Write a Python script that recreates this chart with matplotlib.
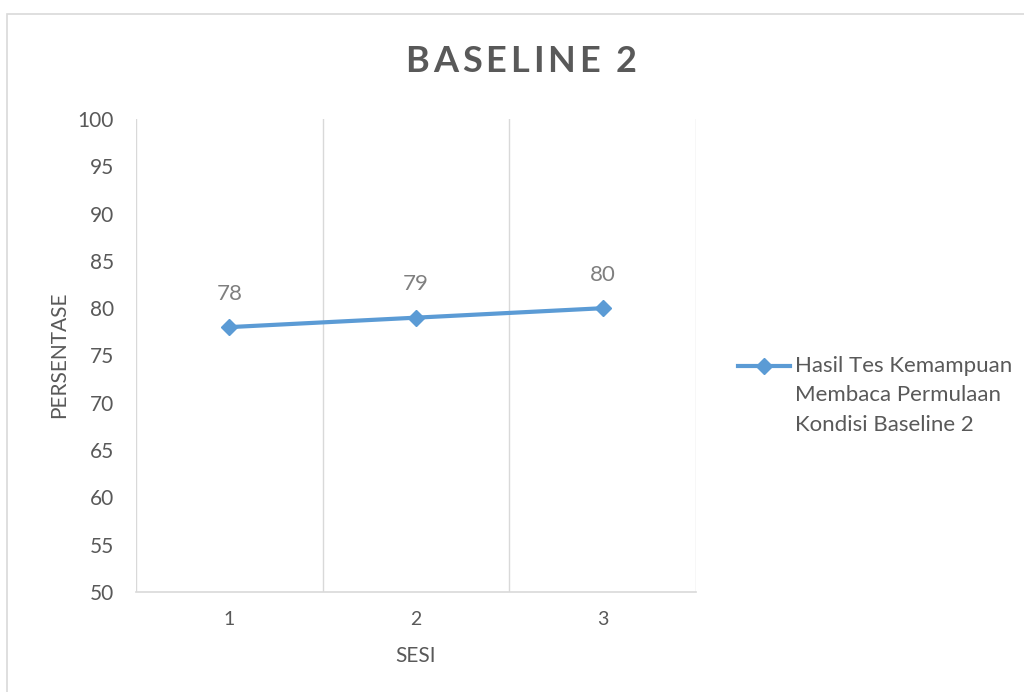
import matplotlib
matplotlib.use("Agg")
import matplotlib.pyplot as plt
from matplotlib.lines import Line2D
from matplotlib.patches import Rectangle

plt.rcParams['font.family'] = ['Lato', 'DejaVu Sans']

sesi = [1, 2, 3]
persentase = [78, 79, 80]
yticks = [50, 55, 60, 65, 70, 75, 80, 85, 90, 95, 100]
judul = 'BASELINE 2'
label_seri = "Hasil Tes Kemampuan\nMembaca Permulaan\nKondisi Baseline 2"

blue = '#5B9BD5'
grey_txt = '#595959'
grid_c = '#D9D9D9'

W, H = 1024, 692
fig = plt.figure(figsize=(W / 100, H / 100), dpi=100)


def px(x, y):
    # pixel position (from top-left) -> figure fraction
    return x / W, 1 - y / H


# chart frame
fig.patches.append(Rectangle((7 / W, -0.1), 1.2, (H - 14) / H + 0.1,
                             transform=fig.transFigure, fill=False,
                             edgecolor=grid_c, linewidth=1.2))

ax = fig.add_axes([136 / W, 1 - 592 / H, (696 - 136) / W, (592 - 119) / H])
ax.plot(sesi, persentase, color=blue, linewidth=3, marker='D',
        markersize=8.5, zorder=3)
for x, y in zip(sesi, persentase):
    ax.annotate(str(y), (x, y), xytext=(0, 24), textcoords='offset points',
                ha='center', va='center', fontsize=16, color='#7F7F7F')

ax.set_xlim(0.5, 3.5)
ax.set_ylim(50, 100)
ax.set_yticks(yticks)
ax.set_xticks(sesi)
# vertical gridlines between categories
ax.set_xticks([0.5, 1.5, 2.5, 3.5], minor=True)
ax.grid(True, which='minor', axis='x', color=grid_c, linewidth=1)
ax.tick_params(axis='both', which='both', length=0)
ax.tick_params(axis='y', labelsize=15, labelcolor=grey_txt, pad=16)
ax.tick_params(axis='x', labelsize=14, labelcolor=grey_txt, pad=14)
for s in ['top', 'right', 'left']:
    ax.spines[s].set_visible(False)
ax.spines['bottom'].set_color(grid_c)
ax.spines['bottom'].set_linewidth(1.2)

fig.text(*px(416, 656), 'SESI', fontsize=15, color=grey_txt,
         ha='center', va='center')
fig.text(*px(59, 355), 'PERSENTASE', fontsize=15, color=grey_txt,
         ha='center', va='center', rotation=90)

# title with letter spacing
renderer = fig.canvas.get_renderer()
tkw = dict(fontsize=26, fontweight='bold', color=grey_txt, va='center')


def lebar(s):
    t = fig.text(0, 0, s, **tkw)
    w = t.get_window_extent(renderer).width
    t.remove()
    return w


spasi = 3.8
total = lebar(judul) + spasi * (len(judul) - 1)
x0 = 521 - total / 2
for i, ch in enumerate(judul):
    if ch == ' ':
        continue
    kiri = lebar(judul[:i + 1]) - lebar(ch) + spasi * i
    fig.text(*px(x0 + kiri, 61), ch, ha='left', **tkw)

# legend
fig.add_artist(Line2D([738 / W, 790 / W], [1 - 366 / H, 1 - 366 / H],
                      transform=fig.transFigure, color=blue, linewidth=3))
fig.add_artist(Line2D([764 / W], [1 - 366 / H], transform=fig.transFigure,
                      color=blue, marker='D', markersize=8.5, linestyle='none'))
fig.text(*px(795, 356), label_seri, fontsize=16, color=grey_txt,
         ha='left', va='top', linespacing=1.58)

fig.savefig('out.png', dpi=100)
